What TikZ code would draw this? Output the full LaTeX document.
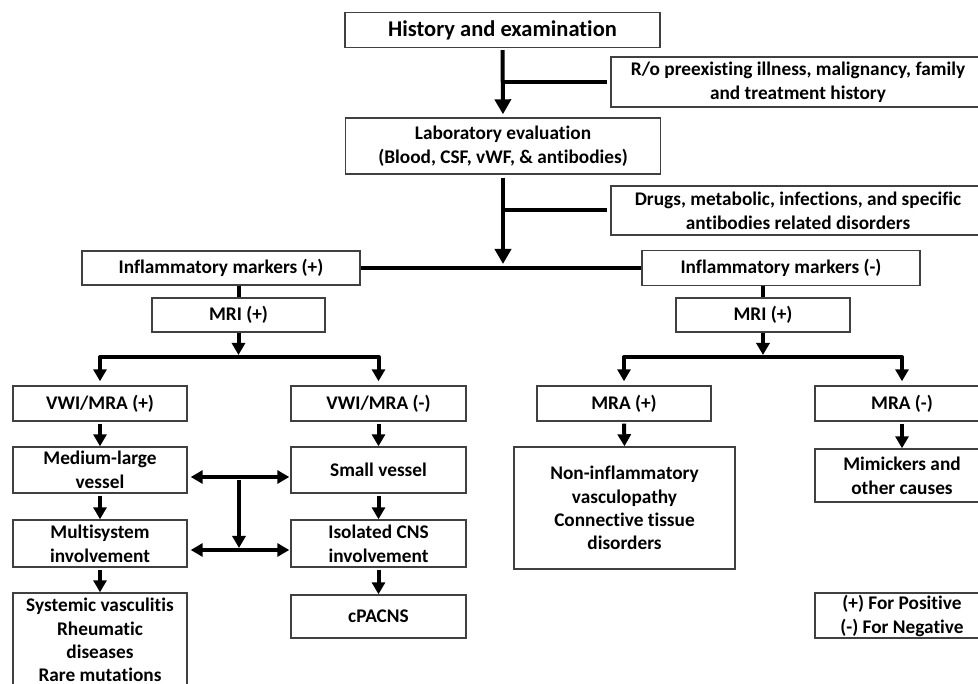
\documentclass[tikz,border=0pt]{standalone}
\usepackage{fontspec}
\setmainfont{Carlito}[Ligatures=NoCommon]
\usetikzlibrary{arrows.meta,calc}
\begin{document}
\begin{tikzpicture}[x=1pt,y=-1pt,
  box/.style={draw=black!75, line width=1.4pt, align=center, inner sep=1pt,
    font=\bfseries\fontsize{19.3}{24}\selectfont},
  sz/.style n args={2}{minimum width=#1pt, minimum height=#2pt},
  ftop/.style={font=\bfseries\fontsize{22.5}{26}\selectfont},
  conn/.style={line width=4pt},
  tip/.tip={Triangle[width=13pt,length=12pt]},
  bigtip/.tip={Triangle[width=16pt,length=15pt]},
  arr/.style={conn, -tip},
  barr/.style={conn, -bigtip},
  darr/.style={conn, tip-tip}]
\useasboundingbox (0,0) rectangle (978,684);
\clip (0,0) rectangle (978,684);
% boxes
\node[box, ftop, sz={315}{35}] (hist) at (502.5,30) {History and examination};
\node[box, sz={374}{50}] (ro) at (798,82) {R/o preexisting illness, malignancy, family\\and treatment history};
\node[box, sz={315}{56}] (lab) at (503,146) {Laboratory evaluation\\(Blood, CSF, vWF, \& antibodies)};
\node[box, sz={374}{49}] (drugs) at (798,210.5) {Drugs, metabolic, infections, and specific\\antibodies related disorders};
\node[box, sz={278}{34}] (inflp) at (221,268) {Inflammatory markers (+)};
\node[box, sz={278}{35}] (infln) at (781,268) {Inflammatory markers (-)};
\node[box, sz={173}{34}] (mrip) at (238.5,315) {MRI (+)};
\node[box, sz={174}{34}] (mrin) at (763,315) {MRI (+)};
\node[box, sz={174}{35}] (vwip) at (100,403.5) {VWI/MRA (+)};
\node[box, sz={175}{35}] (vwin) at (378.5,403.5) {VWI/MRA (-)};
\node[box, sz={174}{35}] (mrap) at (624,403.5) {MRA (+)};
\node[box, sz={174}{35}] (mran) at (902,403.5) {MRA (-)};
\node[box, sz={174}{46}] (medl) at (100,470) {Medium-large\\vessel};
\node[box, sz={175}{46}] (small) at (378.5,470) {Small vessel};
\node[box, sz={221}{122}, font=\bfseries\fontsize{19.3}{23.3}\selectfont] (noninf) at (624.5,508) {Non-inflammatory\\vasculopathy\\Connective tissue\\disorders};
\node[box, sz={174}{53}] (mimic) at (902,475.5) {Mimickers and\\other causes};
\node[box, sz={174}{47}] (multi) at (100,543.5) {Multisystem\\involvement};
\node[box, sz={175}{47}] (iso) at (378.5,543.5) {Isolated CNS\\involvement};
\node[box, sz={174}{94}, font=\bfseries\fontsize{19.3}{23.3}\selectfont] (syst) at (100,640) {Systemic vasculitis\\Rheumatic\\diseases\\Rare mutations};
\node[box, sz={175}{43}] (cpacns) at (378.5,616.5) {cPACNS};
\node[box, sz={174}{45}] (legend) at (902,615.5) {(+) For Positive\\(-) For Negative};
% top spine
\draw[barr, shorten <=2pt, shorten >=3pt] (hist.south) -- (lab.north);
\draw[conn, shorten <=3pt] (ro.west) -- (ro.west -| hist.south);
\draw[barr, shorten <=3pt, shorten >=4pt] (lab.south) -- (lab.south |- inflp.east);
\draw[conn, shorten <=3pt] (drugs.west) -- (drugs.west -| lab.south);
\draw[conn] (inflp.east) -- (infln.west);
\draw[conn] (inflp.south -| mrip.north) -- (mrip.north);
\draw[conn] (infln.south -| mrin.north) -- (mrin.north);
% branch bars
\coordinate (bl) at (238.5,357);
\coordinate (br) at (763,357);
\draw[arr, shorten >=2pt] (mrip.south) -- (bl);
\draw[arr, shorten >=2pt] (mrin.south) -- (br);
\draw[darr, shorten <=4pt, shorten >=4pt, line join=round] (vwip.north) |- (bl) -| (vwin.north);
\draw[darr, shorten <=4pt, shorten >=4pt, line join=round] (mrap.north) |- (br) -| (mran.north);
% columns
\draw[arr, shorten <=2pt] (vwip.south) -- (medl.north);
\draw[arr, shorten <=2pt] (medl.south) -- (multi.north);
\draw[arr, shorten <=2pt] (multi.south) -- (syst.north);
\draw[arr, shorten <=2pt] (vwin.south) -- (small.north);
\draw[arr, shorten <=2pt] (small.south) -- (iso.north);
\draw[arr, shorten <=2pt] (iso.south) -- (cpacns.north);
\draw[arr, shorten <=2pt] (mrap.south) -- (noninf.north);
\draw[arr, shorten <=2pt] (mran.south) -- (mimic.north);
% cross links
\draw[darr, shorten <=3pt, shorten >=1pt] ([yshift=-7pt]medl.east) -- ([yshift=-7pt]small.west)
  coordinate[pos=0.5] (u);
\draw[darr, shorten <=3pt, shorten >=1pt] ([yshift=-6.5pt]multi.east) -- ([yshift=-6.5pt]iso.west)
  coordinate[pos=0.5] (l);
\draw[arr, shorten <=3pt, shorten >=2pt] (u) -- (l);
\end{tikzpicture}
\end{document}
